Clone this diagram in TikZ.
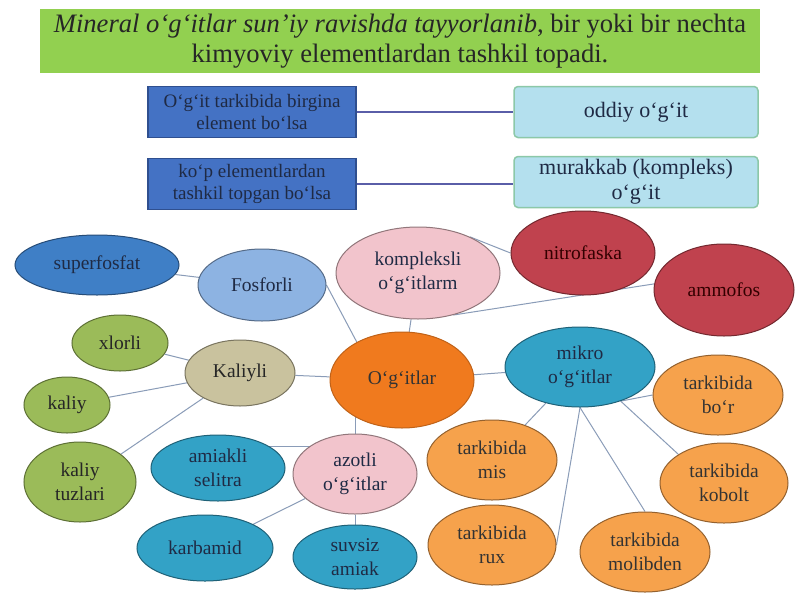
\documentclass[tikz,border=0pt]{standalone}
\usepackage{fontspec}
\setmainfont{Liberation Serif}
\usetikzlibrary{shapes.geometric,backgrounds,calc}
\definecolor{titlegreen}{HTML}{92D050}
\definecolor{boxblue}{HTML}{4472C4}
\definecolor{boxedge}{HTML}{2F4F8F}
\definecolor{cyanbox}{HTML}{B4E0EE}
\definecolor{cyanedge}{HTML}{8CC8A8}
\definecolor{linkblue}{HTML}{5A5EA8}
\definecolor{conn}{HTML}{8A9CB8}
\definecolor{supblue}{HTML}{3F7FC6}
\definecolor{lightblue}{HTML}{8DB3E2}
\definecolor{pinkf}{HTML}{F2C4CC}
\definecolor{redf}{HTML}{C0424E}
\definecolor{greenf}{HTML}{9BBB59}
\definecolor{tanf}{HTML}{C9C29E}
\definecolor{orangef}{HTML}{F07A1E}
\definecolor{tealf}{HTML}{33A2C6}
\definecolor{lorange}{HTML}{F6A24C}
\definecolor{darkt}{HTML}{1F2A44}
\tikzset{
  ell/.style={ellipse, fill=#1, draw=#1!60!black, line width=1pt, inner sep=0pt, align=center,
    font=\fontsize{19.5}{24}\selectfont, text=darkt},
  rbox/.style={rectangle, fill=boxblue, draw=boxedge, line width=1.2pt, inner sep=0pt,
    minimum width=208pt, minimum height=51pt, align=center,
    font=\fontsize{19}{22}\selectfont, text=darkt},
  cbox/.style={rectangle, rounded corners=4pt, fill=cyanbox, draw=cyanedge, line width=1.5pt,
    inner sep=0pt, minimum width=244pt, minimum height=51pt, align=center,
    font=\fontsize{22}{25}\selectfont, text=darkt},
  link/.style={draw=linkblue, line width=2.2pt},
  conline/.style={draw=conn, line width=1pt}
}
\begin{document}
\begin{tikzpicture}[x=1pt,y=-1pt]
\useasboundingbox (0,0) rectangle (800,600);
% title
\node[fill=titlegreen, minimum width=720pt, minimum height=64pt, inner sep=0pt, align=center,
  font=\fontsize{26.6}{30}\selectfont, text=black!85] (title) at (400,41)
  {\textit{Mineral o‘g‘itlar sun’iy ravishda tayyorlanib}, bir yoki bir nechta\\kimyoviy elementlardan tashkil topadi.};
% boxes
\node[rbox] (b1) at (252,112) {O‘g‘it tarkibida birgina\\element bo‘lsa};
\node[cbox] (c1) at (636,112) {oddiy o‘g‘it};
\node[rbox] (b2) at (252,184) {ko‘p elementlardan\\tashkil topgan bo‘lsa};
\node[cbox] (c2) at (636,182) {murakkab (kompleks)\\o‘g‘it};
\draw[link] (b1) -- (c1);
\draw[link] (b2.east) -- (c2.west |- b2.east);
% ellipses
\node[ell=supblue, minimum width=164pt, minimum height=60pt] (sup) at (97,265) {superfosfat};
\node[ell=lightblue, minimum width=128pt, minimum height=72pt] (fos) at (262,285) {Fosforli};
\node[ell=pinkf, minimum width=164pt, minimum height=92pt] (kom) at (418,273) {kompleksli\\o‘g‘itlarm};
\node[ell=redf, minimum width=144pt, minimum height=84pt, text=black!80!red] (nit) at (583,253) {nitrofaska};
\node[ell=redf, minimum width=140pt, minimum height=92pt, text=black!80!red] (amm) at (724,290) {ammofos};
\node[ell=greenf, minimum width=96pt, minimum height=56pt, text=black!85] (xlo) at (120,343) {xlorli};
\node[ell=tanf, minimum width=110pt, minimum height=66pt, text=black!85] (kal) at (240,373) {Kaliyli};
\node[ell=orangef, minimum width=144pt, minimum height=96pt, draw=orangef!80!black, text=black!80] (og) at (402,380) {O‘g‘itlar};
\node[ell=tealf, minimum width=150pt, minimum height=80pt] (mik) at (580,367) {mikro\\o‘g‘itlar};
\node[ell=greenf, minimum width=86pt, minimum height=56pt, text=black!85] (kaliy) at (67,405) {kaliy};
\node[ell=lorange, minimum width=130pt, minimum height=80pt, text=black!80] (bor) at (718,395) {tarkibida\\bo‘r};
\node[ell=greenf, minimum width=112pt, minimum height=80pt, text=black!85] (tuz) at (80,482) {kaliy\\tuzlari};
\node[ell=tealf, minimum width=134pt, minimum height=66pt] (ami) at (218,468) {amiakli\\selitra};
\node[ell=pinkf, minimum width=124pt, minimum height=80pt] (azo) at (355,474) {azotli\\o‘g‘itlar};
\node[ell=lorange, minimum width=130pt, minimum height=80pt, text=black!80] (mis) at (492,460) {tarkibida\\mis};
\node[ell=lorange, minimum width=128pt, minimum height=80pt, text=black!80] (kob) at (724,483) {tarkibida\\kobolt};
\node[ell=tealf, minimum width=136pt, minimum height=66pt] (kar) at (205,548) {karbamid};
\node[ell=tealf, minimum width=124pt, minimum height=64pt] (suv) at (355,557) {suvsiz\\amiak};
\node[ell=lorange, minimum width=128pt, minimum height=80pt, text=black!80] (rux) at (492,545) {tarkibida\\rux};
\node[ell=lorange, minimum width=130pt, minimum height=80pt, text=black!80] (mol) at (645,552) {tarkibida\\molibden};
% connectors
\begin{scope}[on background layer]
\fill[white] (0,0) rectangle (800,600);
\draw[conline] (sup) -- (fos);
\draw[conline] (fos.east) -- (og.140);
\draw[conline] (kom) -- (og);
\draw[conline] (kom.35) -- (nit.west);
\draw[conline] (kom.-50) -- (amm.175);
\draw[conline] (xlo) -- (kal);
\draw[conline] (kaliy) -- (kal);
\draw[conline] (tuz) -- (kal);
\draw[conline] (kal) -- (og);
\draw[conline] (azo.north) -- (azo.north |- og.center);
\draw[conline] ($(ami.center)+(0,-22)$) -- ($(azo.center)+(0,-28)$);
\draw[conline] (kar) -- (azo);
\draw[conline] (suv) -- (azo);
\draw[conline] (og) -- (mik);
\draw[conline] (mik) -- (mis);
\draw[conline] (mik.south) -- (rux.east);
\draw[conline] (mik.south) -- (mol.north);
\draw[conline] (mik.-40) -- (bor.west);
\draw[conline] (mik.-40) -- (kob.north west);
\end{scope}
\end{tikzpicture}
\end{document}
